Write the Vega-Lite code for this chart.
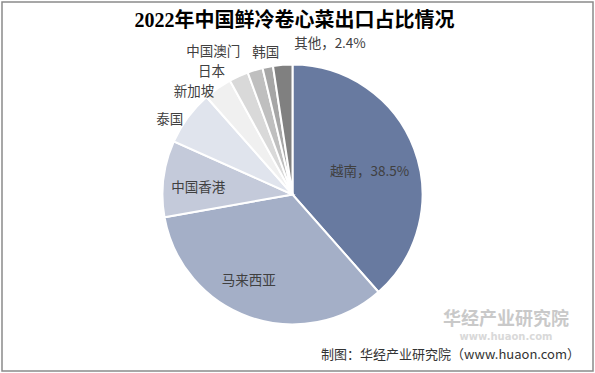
{
  "$schema": "https://vega.github.io/schema/vega-lite/v6.json",
  "width": 591,
  "height": 369,
  "autosize": "none",
  "padding": 2,
  "background": "white",
  "title": {
    "text": "2022年中国鲜冷卷心菜出口占比情况",
    "font": "Liberation Serif, Noto Sans CJK SC",
    "fontSize": 20,
    "fontWeight": "bold",
    "color": "#000000",
    "anchor": "middle",
    "dy": 33,
    "dx": -3
  },
  "config": {
    "view": {"stroke": "#8a8a8a", "strokeWidth": 1.5},
    "text": {"font": "Noto Sans CJK SC", "fontSize": 13.5, "fill": "#404040"}
  },
  "data": {
    "values": [
      {"name": "越南", "label": "越南，38.5%", "value": 38.5, "rank": 1},
      {"name": "马来西亚", "label": "马来西亚", "value": 33.7, "rank": 2},
      {"name": "中国香港", "label": "中国香港", "value": 9.5, "rank": 3},
      {"name": "泰国", "label": "泰国", "value": 6.8, "rank": 4},
      {"name": "新加坡", "label": "新加坡", "value": 3.5, "rank": 5},
      {"name": "日本", "label": "日本", "value": 2.4, "rank": 6},
      {"name": "中国澳门", "label": "中国澳门", "value": 1.9, "rank": 7},
      {"name": "韩国", "label": "韩国", "value": 1.3, "rank": 8},
      {"name": "其他", "label": "其他，2.4%", "value": 2.4, "rank": 9}
    ]
  },
  "encoding": {
    "theta": {"field": "value", "type": "quantitative", "stack": true},
    "order": {"field": "rank", "type": "quantitative"}
  },
  "layer": [
    {
      "mark": {"type": "arc", "outerRadius": 130, "stroke": "white", "strokeWidth": 2, "x": {"expr": "width/2-5"}, "y": {"expr": "height/2+8"}},
      "encoding": {
        "color": {
          "field": "name",
          "type": "nominal",
          "legend": null,
          "scale": {
            "domain": ["越南", "马来西亚", "中国香港", "泰国", "新加坡", "日本", "中国澳门", "韩国", "其他"],
            "range": ["#687aa0", "#a4afc7", "#c4cada", "#e0e4ed", "#f0f0f0", "#d9d9d9", "#bfbfbf", "#a6a6a6", "#808080"]
          }
        }
      }
    },
    {
      "mark": {"type": "text", "radius": 90, "dx": -7, "dy": 9, "x": {"expr": "width/2-5"}, "y": {"expr": "height/2+8"}},
      "encoding": {"detail": {"field": "name"}, "text": {"condition": {"test": "datum.name==='越南'", "field": "label"}, "value": ""}}
    },
    {
      "mark": {"type": "text", "radius": 90, "dx": -14, "dy": 2, "x": {"expr": "width/2-5"}, "y": {"expr": "height/2+8"}},
      "encoding": {"detail": {"field": "name"}, "text": {"condition": {"test": "datum.name==='马来西亚'", "field": "label"}, "value": ""}}
    },
    {
      "mark": {"type": "text", "radius": 90, "dx": -5, "dy": 4, "x": {"expr": "width/2-5"}, "y": {"expr": "height/2+8"}},
      "encoding": {"detail": {"field": "name"}, "text": {"condition": {"test": "datum.name==='中国香港'", "field": "label"}, "value": ""}}
    },
    {
      "mark": {"type": "text", "radius": 140, "dx": -10, "dy": 8, "x": {"expr": "width/2-5"}, "y": {"expr": "height/2+8"}},
      "encoding": {"detail": {"field": "name"}, "text": {"condition": {"test": "datum.name==='泰国'", "field": "label"}, "value": ""}}
    },
    {
      "mark": {"type": "text", "radius": 140, "dx": -18, "dy": 12, "x": {"expr": "width/2-5"}, "y": {"expr": "height/2+8"}},
      "encoding": {"detail": {"field": "name"}, "text": {"condition": {"test": "datum.name==='新加坡'", "field": "label"}, "value": ""}}
    },
    {
      "mark": {"type": "text", "radius": 140, "dx": -23, "dy": 5, "x": {"expr": "width/2-5"}, "y": {"expr": "height/2+8"}},
      "encoding": {"detail": {"field": "name"}, "text": {"condition": {"test": "datum.name==='日本'", "field": "label"}, "value": ""}}
    },
    {
      "mark": {"type": "text", "radius": 140, "dx": -39, "dy": -8, "x": {"expr": "width/2-5"}, "y": {"expr": "height/2+8"}},
      "encoding": {"detail": {"field": "name"}, "text": {"condition": {"test": "datum.name==='中国澳门'", "field": "label"}, "value": ""}}
    },
    {
      "mark": {"type": "text", "radius": 140, "dx": 0, "dy": -4, "x": {"expr": "width/2-5"}, "y": {"expr": "height/2+8"}},
      "encoding": {"detail": {"field": "name"}, "text": {"condition": {"test": "datum.name==='韩国'", "field": "label"}, "value": ""}}
    },
    {
      "mark": {"type": "text", "radius": 140, "dx": 48, "dy": -11, "x": {"expr": "width/2-5"}, "y": {"expr": "height/2+8"}},
      "encoding": {"detail": {"field": "name"}, "text": {"condition": {"test": "datum.name==='其他'", "field": "label"}, "value": ""}}
    },
    {
      "data": {"values": [{"t": "华经产业研究院"}]},
      "mark": {"type": "text", "font": "Noto Sans CJK SC", "fontSize": 18, "fontWeight": "bold", "fill": "#c9c9c9", "align": "center", "baseline": "middle"},
      "encoding": {"theta": null, "order": null, "x": {"value": 504}, "y": {"value": 318}, "text": {"field": "t"}}
    },
    {
      "data": {"values": [{"t": "www.huaon.com"}]},
      "mark": {"type": "text", "font": "DejaVu Sans", "fontSize": 10, "fontWeight": "bold", "fill": "#d9d9d9", "align": "center", "baseline": "middle", "letterSpacing": 3},
      "encoding": {"theta": null, "order": null, "x": {"value": 504}, "y": {"value": 335}, "text": {"field": "t"}}
    },
    {
      "data": {"values": [{"t": "制图：华经产业研究院（www.huaon.com）"}]},
      "mark": {"type": "text", "font": "Noto Sans CJK SC", "fontSize": 13, "fill": "#333333", "align": "right", "baseline": "middle"},
      "encoding": {"theta": null, "order": null, "x": {"value": 578}, "y": {"value": 353}, "text": {"field": "t"}}
    }
  ]
}
